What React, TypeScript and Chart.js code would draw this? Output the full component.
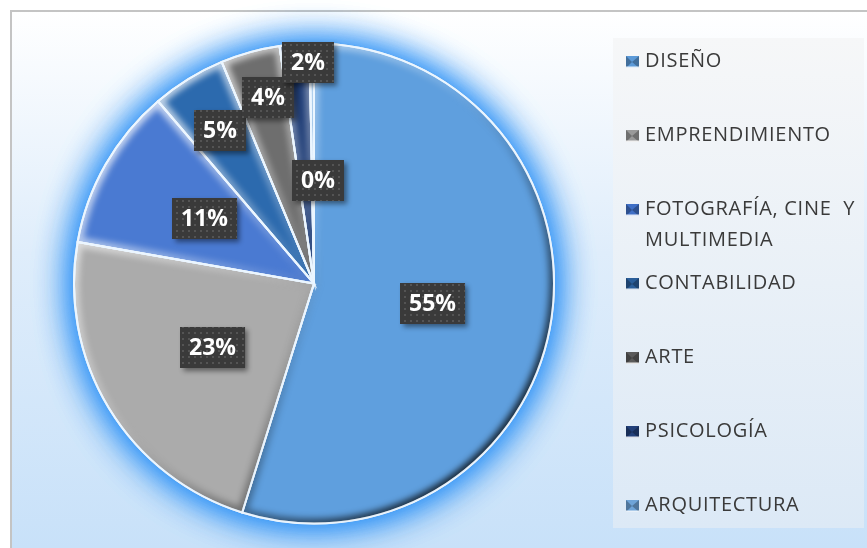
import React, { useEffect, useRef } from 'react';
import { Chart, registerables } from 'chart.js';

Chart.register(...registerables);

const categories = [
  'DISEÑO',
  'EMPRENDIMIENTO',
  'FOTOGRAFÍA, CINE  Y MULTIMEDIA',
  'CONTABILIDAD',
  'ARTE',
  'PSICOLOGÍA',
  'ARQUITECTURA',
];
const values = [55, 23, 11, 5, 4, 2, 0.3];
const sliceColors = ['#5F9FDE', '#ABABAB', '#4A7AD2', '#2C6AAE', '#6E6E6E', '#213F78', '#7EB2E2'];
const legendMarkerColors = ['#5C9AD8', '#9A9A9A', '#3F6FC6', '#2A5E9A', '#5A5A5A', '#22407A', '#6FA4D8'];
const labelRadiusFactor = [0.5, 0.5, 0.53, 0.75, 0.8, 0.92, 0.43];
const labelAngleShiftDeg = [1, -1, 1, 0, 1.5, 3, 3];

const LABEL_FONT = 'bold 23px "Open Sans"';
const LEGEND_FONT = '20px "Open Sans"';

export default function App() {
  const ref = useRef<HTMLCanvasElement>(null);

  useEffect(() => {
    document.body.style.margin = '0';
    const canvas = ref.current!;
    const total = values.reduce((a, b) => a + b, 0);

    const framePlugin = {
      id: 'frame',
      beforeDraw(chart: any) {
        const ctx = chart.ctx as CanvasRenderingContext2D;
        const W = chart.width;
        const H = chart.height;
        ctx.save();
        ctx.fillStyle = '#FFFFFF';
        ctx.fillRect(0, 0, W, H);
        const g = ctx.createLinearGradient(0, 10, 0, H);
        g.addColorStop(0, '#FFFFFF');
        g.addColorStop(0.45, '#DFEDFB');
        g.addColorStop(1, '#C8E1F9');
        ctx.fillStyle = g;
        ctx.fillRect(10, 10, W - 10, H - 10);
        ctx.fillStyle = '#C4C4C4';
        ctx.fillRect(10, 10, W - 10, 2);
        ctx.fillRect(10, 10, 2, H - 10);
        const lg = ctx.createLinearGradient(0, 38, 0, 528);
        lg.addColorStop(0, '#F6F7F8');
        lg.addColorStop(1, '#DCE9F6');
        ctx.fillStyle = lg;
        ctx.fillRect(613, 38, 251, 490);
        ctx.restore();
      },
    };

    const glowPlugin = {
      id: 'glow',
      beforeDatasetsDraw(chart: any) {
        const el = chart.getDatasetMeta(0).data[0];
        if (!el) return;
        const ctx = chart.ctx as CanvasRenderingContext2D;
        ctx.save();
        ctx.shadowColor = 'rgba(25,135,245,0.95)';
        ctx.shadowBlur = 36;
        ctx.fillStyle = '#6AA8E6';
        for (let k = 0; k < 2; k++) {
          ctx.beginPath();
          ctx.arc(el.x, el.y, el.outerRadius + 1, 0, Math.PI * 2);
          ctx.fill();
        }
        ctx.restore();
      },
    };

    const bevelPlugin = {
      id: 'bevel',
      afterDatasetsDraw(chart: any) {
        const ctx = chart.ctx as CanvasRenderingContext2D;
        const meta = chart.getDatasetMeta(0);
        meta.data.forEach((el: any) => {
          if (el.endAngle - el.startAngle < 0.01) return;
          const { x, y, outerRadius: r, startAngle, endAngle } = el;
          const path = () => {
            ctx.beginPath();
            ctx.moveTo(x, y);
            ctx.arc(x, y, r, startAngle, endAngle);
            ctx.closePath();
          };
          ctx.save();
          path();
          ctx.clip();
          ctx.filter = 'blur(3px)';
          const g = ctx.createLinearGradient(x - r * 0.7, y - r * 0.7, x + r * 0.7, y + r * 0.7);
          g.addColorStop(0, 'rgba(255,255,255,0.7)');
          g.addColorStop(0.42, 'rgba(255,255,255,0.1)');
          g.addColorStop(0.58, 'rgba(0,0,0,0.1)');
          g.addColorStop(1, 'rgba(0,0,0,0.75)');
          ctx.strokeStyle = g;
          ctx.lineWidth = 10;
          path();
          ctx.stroke();
          ctx.restore();
          ctx.save();
          ctx.strokeStyle = 'rgba(235,245,255,0.95)';
          ctx.lineWidth = 2;
          path();
          ctx.stroke();
          ctx.restore();
        });
      },
    };

    const dotCanvas = document.createElement('canvas');
    dotCanvas.width = 6;
    dotCanvas.height = 6;
    const dctx = dotCanvas.getContext('2d')!;
    dctx.fillStyle = '#3A3A3A';
    dctx.fillRect(0, 0, 6, 6);
    dctx.fillStyle = '#545454';
    dctx.fillRect(2, 2, 2, 2);

    const labelPlugin = {
      id: 'pctLabels',
      afterDatasetsDraw(chart: any) {
        const ctx = chart.ctx as CanvasRenderingContext2D;
        const meta = chart.getDatasetMeta(0);
        const data = chart.data.datasets[0].data as number[];
        const pattern = ctx.createPattern(dotCanvas, 'repeat')!;
        meta.data.forEach((el: any, i: number) => {
          const { x, y, outerRadius: r, startAngle, endAngle } = el;
          const mid = (startAngle + endAngle) / 2 + (labelAngleShiftDeg[i] * Math.PI) / 180;
          const rr = r * labelRadiusFactor[i];
          const cx = x + Math.cos(mid) * rr;
          const cy = y + Math.sin(mid) * rr;
          const text = Math.round((data[i] / total) * 100) + '%';
          ctx.save();
          ctx.font = LABEL_FONT;
          const w = ctx.measureText(text).width + 18;
          const h = 41;
          const bx = Math.round(cx - w / 2);
          const by = Math.round(cy - h / 2);
          ctx.shadowColor = 'rgba(0,0,0,0.45)';
          ctx.shadowBlur = 5;
          ctx.shadowOffsetX = 3;
          ctx.shadowOffsetY = 3;
          ctx.fillStyle = '#3A3A3A';
          ctx.fillRect(bx, by, w, h);
          ctx.shadowColor = 'transparent';
          ctx.fillStyle = pattern;
          ctx.fillRect(bx, by, w, h);
          ctx.fillStyle = '#FFFFFF';
          ctx.textAlign = 'center';
          ctx.textBaseline = 'middle';
          ctx.fillText(text, bx + w / 2, by + h / 2 + 1);
          ctx.restore();
        });
      },
    };

    const legendPlugin = {
      id: 'customLegend',
      afterDraw(chart: any) {
        const ctx = chart.ctx as CanvasRenderingContext2D;
        const labels = chart.data.labels as string[];
        ctx.save();
        ctx.font = LEGEND_FONT;
        (ctx as any).letterSpacing = '0.7px';
        ctx.textBaseline = 'middle';
        const maxW = 218;
        labels.forEach((lab, i) => {
          const yc = 61 + i * 74;
          const mx = 626;
          const my = yc - 5;
          const s = 12;
          ctx.fillStyle = legendMarkerColors[i];
          ctx.fillRect(mx, my, s + 1, s);
          ctx.fillStyle = 'rgba(0,0,0,0.28)';
          ctx.beginPath();
          ctx.moveTo(mx, my);
          ctx.lineTo(mx + s / 2, my + s / 2);
          ctx.lineTo(mx, my + s);
          ctx.closePath();
          ctx.fill();
          ctx.beginPath();
          ctx.moveTo(mx + s + 1, my);
          ctx.lineTo(mx + s / 2, my + s / 2);
          ctx.lineTo(mx + s + 1, my + s);
          ctx.closePath();
          ctx.fill();
          ctx.fillStyle = 'rgba(255,255,255,0.85)';
          ctx.fillRect(mx, my + s - 1.5, s + 1, 1.5);
          const words = lab.split(' ');
          const lines: string[] = [];
          let cur = '';
          words.forEach((wd) => {
            const test = cur === '' ? wd : cur + ' ' + wd;
            if (ctx.measureText(test).width > maxW && cur !== '') {
              lines.push(cur.trimEnd());
              cur = wd;
            } else {
              cur = test;
            }
          });
          lines.push(cur);
          ctx.fillStyle = '#3A3A3A';
          lines.forEach((ln, k) => {
            ctx.fillText(ln, 645, yc + k * 31);
          });
        });
        ctx.restore();
      },
    };

    const chart = new Chart(canvas, {
      type: 'pie',
      data: {
        labels: categories,
        datasets: [
          {
            data: values,
            backgroundColor: sliceColors,
            borderColor: '#E4F0FB',
            borderWidth: 2,
          },
        ],
      },
      options: {
        responsive: false,
        animation: false,
        layout: { padding: { left: 73, right: 312, top: 42, bottom: 23 } },
        plugins: {
          legend: { display: false },
          tooltip: { enabled: false },
        },
      },
      plugins: [framePlugin, glowPlugin, bevelPlugin, labelPlugin, legendPlugin],
    } as any);

    Promise.all([document.fonts.load(LABEL_FONT), document.fonts.load(LEGEND_FONT)]).then(() => {
      try {
        chart.draw();
      } catch (e) {
        /* ignore */
      }
    });

    return () => chart.destroy();
  }, []);

  return <canvas ref={ref} width={867} height={548} style={{ display: 'block', width: 867, height: 548 }} />;
}
